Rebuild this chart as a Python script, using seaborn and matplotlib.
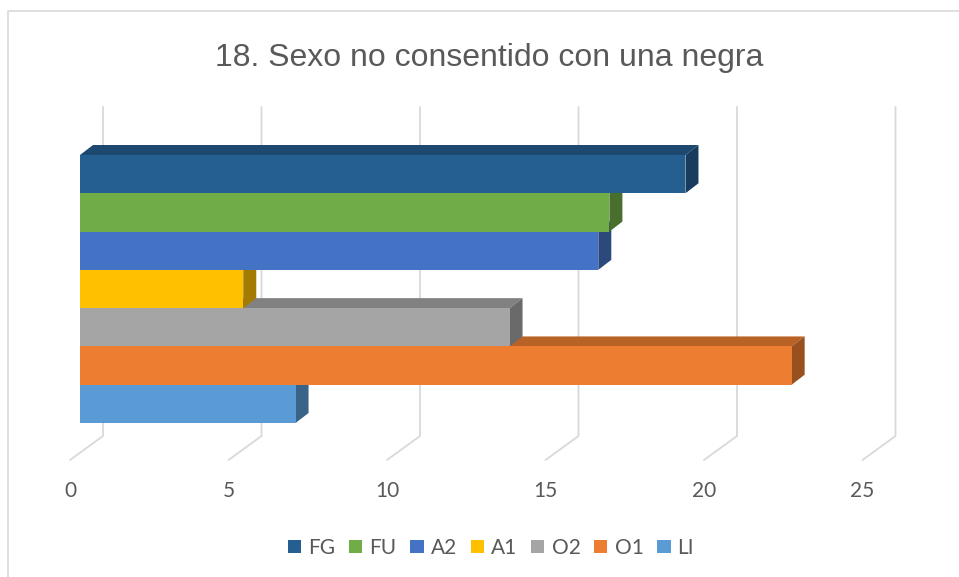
import matplotlib
matplotlib.use('Agg')
import matplotlib.pyplot as plt
import seaborn as sns
import pandas as pd
from matplotlib.colors import to_rgb
from matplotlib.patches import Patch, Rectangle

# ---- data ----
categories = ['FG', 'FU', 'A2', 'A1', 'O2', 'O1', 'LI']
values = [19.1, 16.7, 16.35, 5.15, 13.55, 22.45, 6.8]
colors = ['#255E91', '#70AD47', '#4472C4', '#FFC000', '#A5A5A5', '#ED7D31', '#5B9BD5']
tick_values = [0, 5, 10, 15, 20, 25]
title = '18. Sexo no consentido con una negra'

sns.set_theme(style='white')
plt.rcParams['font.family'] = ['Lato', 'DejaVu Sans']

W, H = 959, 577
fig = plt.figure(figsize=(W / 100, H / 100), dpi=100)
fig.patch.set_facecolor('white')

x0px, x1px = 80, 80 + 25 * 31.7
ytop, ybot = 155, 423
ax = fig.add_axes([x0px / W, 1 - ybot / H, (x1px - x0px) / W, (ybot - ytop) / H])
ax.set_facecolor('none')

df = pd.DataFrame({'cat': categories, 'val': values})
sns.barplot(data=df, x='val', y='cat', hue='cat', palette=colors, saturation=1,
            width=1.0, orient='h', legend=False, ax=ax, linewidth=0)
ax.set_xlim(0, 25)
ax.set_ylim(6.5, -0.5)

px_x = (x1px - x0px) / 25.0
px_y = (ybot - ytop) / 7.0
dx = 13 / px_x
dy = 10 / px_y


def shade(c, f):
    return tuple(v * f for v in to_rgb(c))


bars = list(ax.patches)
for p in bars:
    y0 = p.get_y()
    h = p.get_height()
    w = p.get_width()
    i = int(round(y0 + h / 2))
    c = colors[i]
    z = 20 - 2 * i
    p.set_zorder(z)
    p.set_edgecolor('none')
    yt = y0  # top edge (inverted axis: smaller y is higher)
    yb = y0 + h
    # top face
    ax.fill([0, w, w + dx, dx], [yt, yt, yt - dy, yt - dy], color=shade(c, 0.78),
            zorder=z - 0.5, clip_on=False, lw=0)
    # right side face
    ax.fill([w, w + dx, w + dx, w], [yt, yt - dy, yb - dy, yb], color=shade(c, 0.64),
            zorder=z - 0.5, clip_on=False, lw=0)

# gridlines (back wall + floor diagonal)
ygrid_top = -0.5 + (107 - ytop) / px_y
ygrid_bot = -0.5 + (436 - ytop) / px_y
yfloor = -0.5 + (460 - ytop) / px_y
ylabel = -0.5 + (491 - ytop) / px_y
for t in tick_values:
    xb = t + 23 / px_x
    xf = t - 10 / px_x
    ax.plot([xb, xb, xf], [ygrid_top, ygrid_bot, yfloor], color='#D9D9D9', lw=1.3,
            zorder=0, clip_on=False, solid_joinstyle='miter')
    ax.text(xf, ylabel, str(t), ha='center', va='center', fontsize=15, color='#595959',
            clip_on=False)

ax.set_xticks([])
ax.set_yticks([])
ax.set_xlabel('')
ax.set_ylabel('')
for s in ax.spines.values():
    s.set_visible(False)

# title
fig.text(489 / W, 1 - 66 / H, title, ha='center', va='baseline', fontsize=23,
         color='#595959', family=['Liberation Sans', 'DejaVu Sans'])

# legend
handles = [Patch(facecolor=c, edgecolor='none', label=l) for l, c in zip(categories, colors)]
fig.legend(handles=handles, loc='center', bbox_to_anchor=(491 / W, 1 - 548 / H), ncol=7,
           frameon=False, fontsize=15, handlelength=0.63, handleheight=0.63,
           handletextpad=0.34, columnspacing=0.67, labelcolor='#595959')

# chart border
fig.add_artist(Rectangle((8 / W, -0.1), 1.2, 1 - 11 / H + 0.1, transform=fig.transFigure,
                         fill=False, ec='#D9D9D9', lw=1.2))

fig.savefig('out.png', dpi=100)
